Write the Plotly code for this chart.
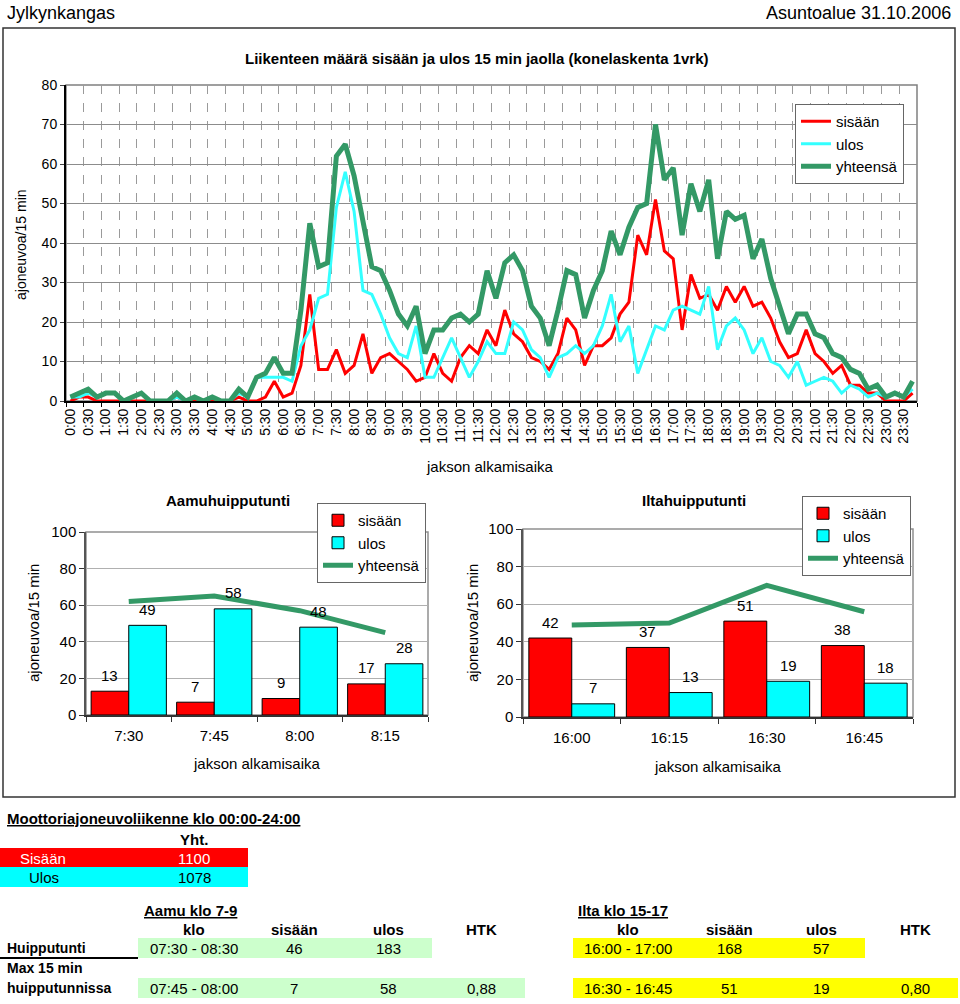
import plotly.graph_objects as go

W, H = 960, 1004

# ---------------- data ----------------
times = [f"{h}:{m:02d}" for h in range(24) for m in (0, 15, 30, 45)]

sisaan = [0, 1, 1, 0, 0, 0, 0, 0, 0, 0, 0, 0, 1, 0, 0, 0, 0, 0, 0, 1, 0, 0, 1, 5, 1, 2,
          9, 27, 8, 8, 13, 7, 9, 17, 7, 11, 12,
          10, 8, 5, 6, 12, 7, 5, 11, 14, 12, 18, 14, 23, 17, 15, 11, 10, 8, 12,
          21, 18, 9, 14, 14, 16, 22, 25, 42, 37, 51, 38, 36, 18, 32, 26, 27, 23, 29,
          25, 29, 24, 25, 21, 15, 11, 12, 18, 12, 10, 7, 9, 4, 4, 2, 2, 0, 0, 0, 2]
ulos = [1, 1, 2, 1, 2, 2, 0, 1, 2, 0, 0, 0, 1, 0, 1, 0, 1, 0, 0, 2, 1, 6, 6, 6, 6, 5,
        14, 18, 26, 27, 49, 58, 48, 28, 27, 22, 16,
        12, 11, 19, 6, 6, 11, 16, 11, 6, 10, 15, 12, 12, 20, 18, 13, 11, 6, 11,
        12, 14, 12, 14, 19, 27, 15, 19, 7, 13, 19, 18, 23, 24, 23, 22, 29, 13, 19,
        21, 18, 12, 16, 10, 9, 6, 10, 4, 5, 6, 5, 2, 4, 3, 1, 2, 1, 2, 1, 3]
yhteensa = [1, 2, 3, 1, 2, 2, 0, 1, 2, 0, 0, 0, 2, 0, 1, 0, 1, 0, 0, 3, 1, 6, 7, 11, 7, 7,
            23, 45, 34, 35, 62, 65, 57, 45, 34, 33, 28,
            22, 19, 24, 12, 18, 18, 21, 22, 20, 22, 33, 26, 35, 37, 33, 24, 21, 14, 23,
            33, 32, 21, 28, 33, 43, 37, 44, 49, 50, 70, 56, 59, 42, 55, 48, 56, 36, 48,
            46, 47, 36, 41, 31, 24, 17, 22, 22, 17, 16, 12, 11, 8, 7, 3, 4, 1, 2, 1, 5]

aamu_klo = ["7:30", "7:45", "8:00", "8:15"]
aamu_sisaan = [13, 7, 9, 17]
aamu_ulos = [49, 58, 48, 28]
aamu_yht = [62, 65, 57, 45]

ilta_klo = ["16:00", "16:15", "16:30", "16:45"]
ilta_sisaan = [42, 37, 51, 38]
ilta_ulos = [7, 13, 19, 18]
ilta_yht = [49, 50, 70, 56]

total_names = ["Sisään", "Ulos"]
total_values = [1100, 1078]

table_cols = ["klo", "sisään", "ulos", "HTK"]
aamu_huippu = ["07:30 - 08:30", "46", "183"]
aamu_max15 = ["07:45 - 08:00", "7", "58", "0,88"]
ilta_huippu = ["16:00 - 17:00", "168", "57"]
ilta_max15 = ["16:30 - 16:45", "51", "19", "0,80"]

# ---------------- styles ----------------
RED = "#FF0000"
CYAN = "#33FFFF"
CYAN_BAR = "#00FFFF"
GREEN = "#339966"
GRID = "#8c8c8c"
FONT = "Liberation Sans, Arial, sans-serif"
BARGAP = 0.12


def px(x):
    return x / W


def py(y):
    return 1 - y / H


fig = go.Figure()

# ---------------- main line chart ----------------
xi = list(range(len(times)))
for name, vals, col, wid in [("sisään", sisaan, RED, 3), ("ulos", ulos, CYAN, 3),
                             ("yhteensä", yhteensa, GREEN, 5)]:
    fig.add_trace(go.Scatter(x=xi, y=vals, mode="lines", name=name, customdata=times,
                             hovertemplate="%{customdata}: %{y}<extra>" + name + "</extra>",
                             line=dict(color=col, width=wid), xaxis="x", yaxis="y",
                             legend="legend"))

# ---------------- small bar charts ----------------
small = [
    (aamu_klo, aamu_sisaan, aamu_ulos, aamu_yht, "x2", "y2", "legend2", (86, 428)),
    (ilta_klo, ilta_sisaan, ilta_ulos, ilta_yht, "x3", "y3", "legend3", (523, 913)),
]
ann = []
for (cats, s, u, t, xa, ya, lg, (xl, xr)) in small:
    fig.add_trace(go.Bar(x=cats, y=s, name="sisään", marker=dict(color=RED, line=dict(color="black", width=1)),
                         xaxis=xa, yaxis=ya, legend=lg))
    fig.add_trace(go.Bar(x=cats, y=u, name="ulos", marker=dict(color=CYAN_BAR, line=dict(color="black", width=1)),
                         xaxis=xa, yaxis=ya, legend=lg))
    fig.add_trace(go.Scatter(x=cats, y=t, name="yhteensä", mode="lines",
                             line=dict(color=GREEN, width=5), xaxis=xa, yaxis=ya, legend=lg))
    # value labels above the bars (positioned through the axes)
    half = (xr - xl) / len(cats) * (1 - BARGAP) / 4
    for series, sh in [(s, -half), (u, half)]:
        for c, v in zip(cats, series):
            ann.append(dict(text=str(v), x=c, y=v, xref=xa, yref=ya, xshift=sh, yshift=16,
                            showarrow=False, xanchor="center", yanchor="middle",
                            font=dict(size=15, color="black", family=FONT)))

# ---------------- axes ----------------
fig.update_layout(
    xaxis=dict(domain=[px(66), px(917)], range=[-0.5, len(times) - 0.5], anchor="y",
               tickmode="array", tickvals=xi[0::2], ticktext=times[0::2], tickangle=-90,
               tickfont=dict(size=14), ticks="", showgrid=False, zeroline=False,
               showline=True, linecolor="black", linewidth=2,
               minor=dict(tickmode="linear", tick0=1.5, dtick=2, showgrid=True, griddash="dash",
                          gridcolor="#9a9a9a", gridwidth=1, ticks="outside", ticklen=4,
                          tickcolor="black")),
    yaxis=dict(domain=[py(401), py(85)], range=[0, 80], dtick=10, anchor="x",
               showgrid=True, gridcolor=GRID, gridwidth=1, zeroline=False,
               showline=True, linecolor="black", linewidth=2, ticks="outside", ticklen=4,
               tickfont=dict(size=14)),
    xaxis2=dict(domain=[px(86), px(428)], anchor="y2", type="category",
                tickson="boundaries", ticks="outside", ticklen=5, tickcolor="#333",
                showline=True, linecolor="#333", linewidth=1.5, tickfont=dict(size=15),
                ticklabelstandoff=6),
    yaxis2=dict(domain=[py(715), py(532)], anchor="x2", range=[0, 100], dtick=20,
                showgrid=True, gridcolor="#b0b0b0", zeroline=False, showline=True,
                linecolor="#555", linewidth=1.5, ticks="outside", ticklen=5, tickcolor="#333",
                tickfont=dict(size=15)),
    xaxis3=dict(domain=[px(523), px(913)], anchor="y3", type="category",
                tickson="boundaries", ticks="outside", ticklen=5, tickcolor="#333",
                showline=True, linecolor="#333", linewidth=1.5, tickfont=dict(size=15),
                ticklabelstandoff=6),
    yaxis3=dict(domain=[py(717), py(529)], anchor="x3", range=[0, 100], dtick=20,
                showgrid=True, gridcolor="#b0b0b0", zeroline=False, showline=True,
                linecolor="#555", linewidth=1.5, ticks="outside", ticklen=5, tickcolor="#333",
                tickfont=dict(size=15)),
    barmode="group", bargap=BARGAP, bargroupgap=0,
)

# ---------------- legends ----------------
leg_common = dict(xanchor="left", yanchor="top", bgcolor="white", bordercolor="#666",
                  borderwidth=1, font=dict(size=15, color="black"), tracegroupgap=0,
                  itemwidth=30)
fig.update_layout(
    legend=dict(x=px(795), y=py(104), **leg_common),
    legend2=dict(x=px(317), y=py(503), **leg_common),
    legend3=dict(x=px(802), y=py(496), **leg_common),
)

# ---------------- shapes ----------------
shapes = []
shapes.append(dict(type="rect", xref="paper", yref="paper", x0=px(3), x1=px(955), y0=py(797), y1=py(28),
                   line=dict(color="#333", width=1.5), layer="below"))
for xa, ya, col in [("x", "y", "#808080"), ("x2", "y2", "#909090"), ("x3", "y3", "#909090")]:
    shapes.append(dict(type="rect", xref=f"{xa} domain", yref=f"{ya} domain", x0=0, x1=1, y0=0, y1=1,
                       line=dict(color=col, width=1.5), layer="below"))
shapes.append(dict(type="rect", xref="paper", yref="paper", x0=px(0), x1=px(248), y0=py(867), y1=py(848),
                   fillcolor=RED, line=dict(width=0), layer="below"))
shapes.append(dict(type="rect", xref="paper", yref="paper", x0=px(0), x1=px(248), y0=py(887), y1=py(867),
                   fillcolor=CYAN_BAR, line=dict(width=0), layer="below"))
for x0, x1, y0, y1, col in [(138, 432, 938, 958, "#CCFFCC"), (573, 865, 938, 958, "#FFFF00"),
                            (138, 525, 978, 998, "#CCFFCC"), (573, 958, 978, 998, "#FFFF00")]:
    shapes.append(dict(type="rect", xref="paper", yref="paper", x0=px(x0), x1=px(x1), y0=py(y1), y1=py(y0),
                       fillcolor=col, line=dict(width=0), layer="below"))
shapes.append(dict(type="line", xref="paper", yref="paper", x0=px(0), x1=px(138), y0=py(958), y1=py(958),
                   line=dict(color="black", width=2)))
fig.update_layout(shapes=shapes)


# ---------------- annotations ----------------
def text(t, x, y, size=14, anchor="center", bold=False, color="black", angle=0, under=False):
    f = dict(size=size, color=color, family=FONT)
    if under:
        f["lineposition"] = "under"
    ann.append(dict(text=f"<b>{t}</b>" if bold else t, x=px(x), y=py(y), xref="paper", yref="paper",
                    xanchor=anchor, yanchor="middle", showarrow=False, font=f, textangle=angle))


text("Jylkynkangas", 5, 13, size=18, anchor="left")
text("Asuntoalue 31.10.2006", 953, 13, size=18, anchor="right")
text("Liikenteen määrä sisään ja ulos 15 min jaolla (konelaskenta 1vrk)", 477, 59, size=15, bold=True)
text("ajoneuvoa/15 min", 21, 245, size=14, angle=-90)
text("jakson alkamisaika", 490, 466, size=15)

text("Aamuhuipputunti", 228, 500, size=15, bold=True)
text("ajoneuvoa/15 min", 33, 623, size=15, angle=-90)
text("jakson alkamisaika", 257, 763, size=15)
text("Iltahuipputunti", 694, 500, size=15, bold=True)
text("ajoneuvoa/15 min", 472, 623, size=15, angle=-90)
text("jakson alkamisaika", 718, 766, size=15)

text("Moottoriajoneuvoliikenne klo 00:00-24:00", 5, 818, size=15, anchor="left", bold=True, under=True)
text("Yht.", 194, 839, size=15, bold=True)
text(total_names[0], 18, 858, size=15, anchor="left", color="white")
text(str(total_values[0]), 194, 858, size=15, color="white")
text(total_names[1], 27, 877, size=15, anchor="left")
text(str(total_values[1]), 194, 877, size=15)

text("Aamu klo 7-9", 142, 910, size=15, anchor="left", bold=True, under=True)
text("Ilta klo 15-17", 576, 910, size=15, anchor="left", bold=True, under=True)
left_cols = [194, 294, 388, 481]
right_cols = [628, 729, 821, 915]
for c, xl, xr in zip(table_cols, left_cols, right_cols):
    text(c, xl, 929, size=15, bold=True)
    text(c, xr, 929, size=15, bold=True)
text("Huipputunti", 5, 948, size=14, anchor="left", bold=True)
text("Max 15 min", 5, 968, size=14, anchor="left", bold=True)
text("huipputunnissa", 5, 988, size=14, anchor="left", bold=True)
for v, xl in zip(aamu_huippu, left_cols):
    text(v, xl, 948, size=15)
for v, xr in zip(ilta_huippu, right_cols):
    text(v, xr, 948, size=15)
for v, xl in zip(aamu_max15, left_cols):
    text(v, xl, 988, size=15)
for v, xr in zip(ilta_max15, right_cols):
    text(v, xr, 988, size=15)

fig.update_layout(annotations=ann)

fig.update_layout(width=W, height=H, margin=dict(l=0, r=0, t=0, b=0, autoexpand=False),
                  paper_bgcolor="white", plot_bgcolor="white",
                  font=dict(family=FONT, color="black", size=14), showlegend=True)

fig.write_html("out.html", config={"displayModeBar": False},
               post_script="document.body.style.margin='0px';")
